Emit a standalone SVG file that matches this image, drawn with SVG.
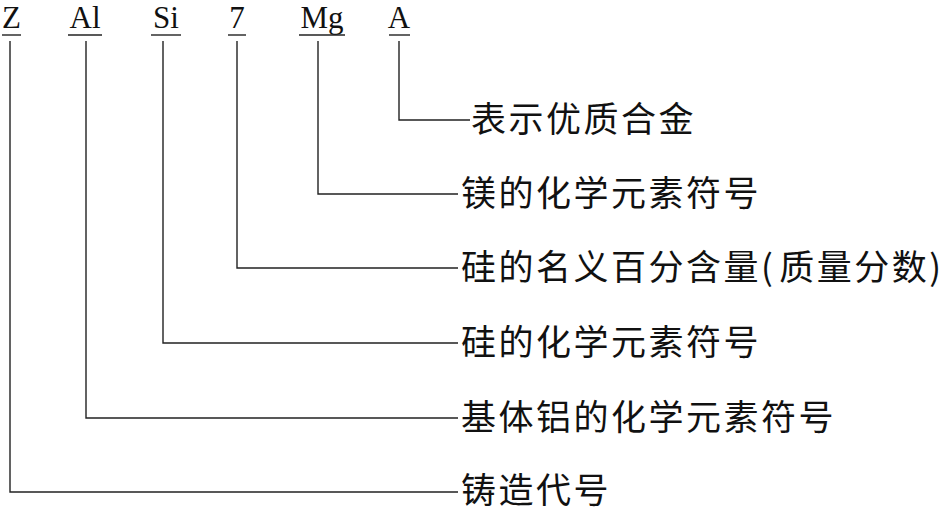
<svg xmlns="http://www.w3.org/2000/svg" width="948" height="512" viewBox="0 0 948 512">
<style>
.sym{font-family:"Liberation Serif","Times New Roman",serif;font-size:31px;fill:#111;text-anchor:middle}
.lbl{font-family:"Noto Sans CJK SC","Noto Sans CJK JP",sans-serif;font-size:35px;fill:#111;letter-spacing:2.5px}
.ln{stroke:#222;stroke-width:1.4;fill:none}
</style>
<rect width="948" height="512" fill="#fff"/>
<g id="symbols">
<g id="sym-Z"><text class="sym" x="11.5" y="28">Z</text><line class="ln" x1="2" y1="35" x2="21" y2="35"/></g>
<g id="sym-Al"><text class="sym" x="85" y="28">Al</text><line class="ln" x1="68" y1="35" x2="102" y2="35"/></g>
<g id="sym-Si"><text class="sym" x="166" y="28">Si</text><line class="ln" x1="151" y1="35" x2="181" y2="35"/></g>
<g id="sym-7"><text class="sym" x="237" y="28">7</text><line class="ln" x1="228" y1="35" x2="246" y2="35"/></g>
<g id="sym-Mg"><text class="sym" x="322" y="28">Mg</text><line class="ln" x1="299" y1="35" x2="345" y2="35"/></g>
<g id="sym-A"><text class="sym" x="399" y="28">A</text><line class="ln" x1="389" y1="35" x2="410" y2="35"/></g>
</g>
<g id="connectors">
<polyline class="ln" points="399,41 399,120 470,120"/>
<polyline class="ln" points="318,41 318,194 458,194"/>
<polyline class="ln" points="237,41 237,268 458,268"/>
<polyline class="ln" points="163,41 163,343 458,343"/>
<polyline class="ln" points="86,41 86,418 458,418"/>
<polyline class="ln" points="10,41 10,492 458,492"/>
</g>
<g id="labels">
<g id="lbl-A"><text class="lbl" x="471" y="132">表示优质合金</text></g>
<g id="lbl-Mg"><text class="lbl" x="461" y="206">镁的化学元素符号</text></g>
<g id="lbl-7"><text class="lbl" x="461" y="280">硅的名义百分含量(<tspan dx="4">质量分数</tspan>)</text></g>
<g id="lbl-Si"><text class="lbl" x="461" y="355">硅的化学元素符号</text></g>
<g id="lbl-Al"><text class="lbl" x="461" y="430">基体铝的化学元素符号</text></g>
<g id="lbl-Z"><text class="lbl" x="461" y="503">铸造代号</text></g>
</g>
</svg>
